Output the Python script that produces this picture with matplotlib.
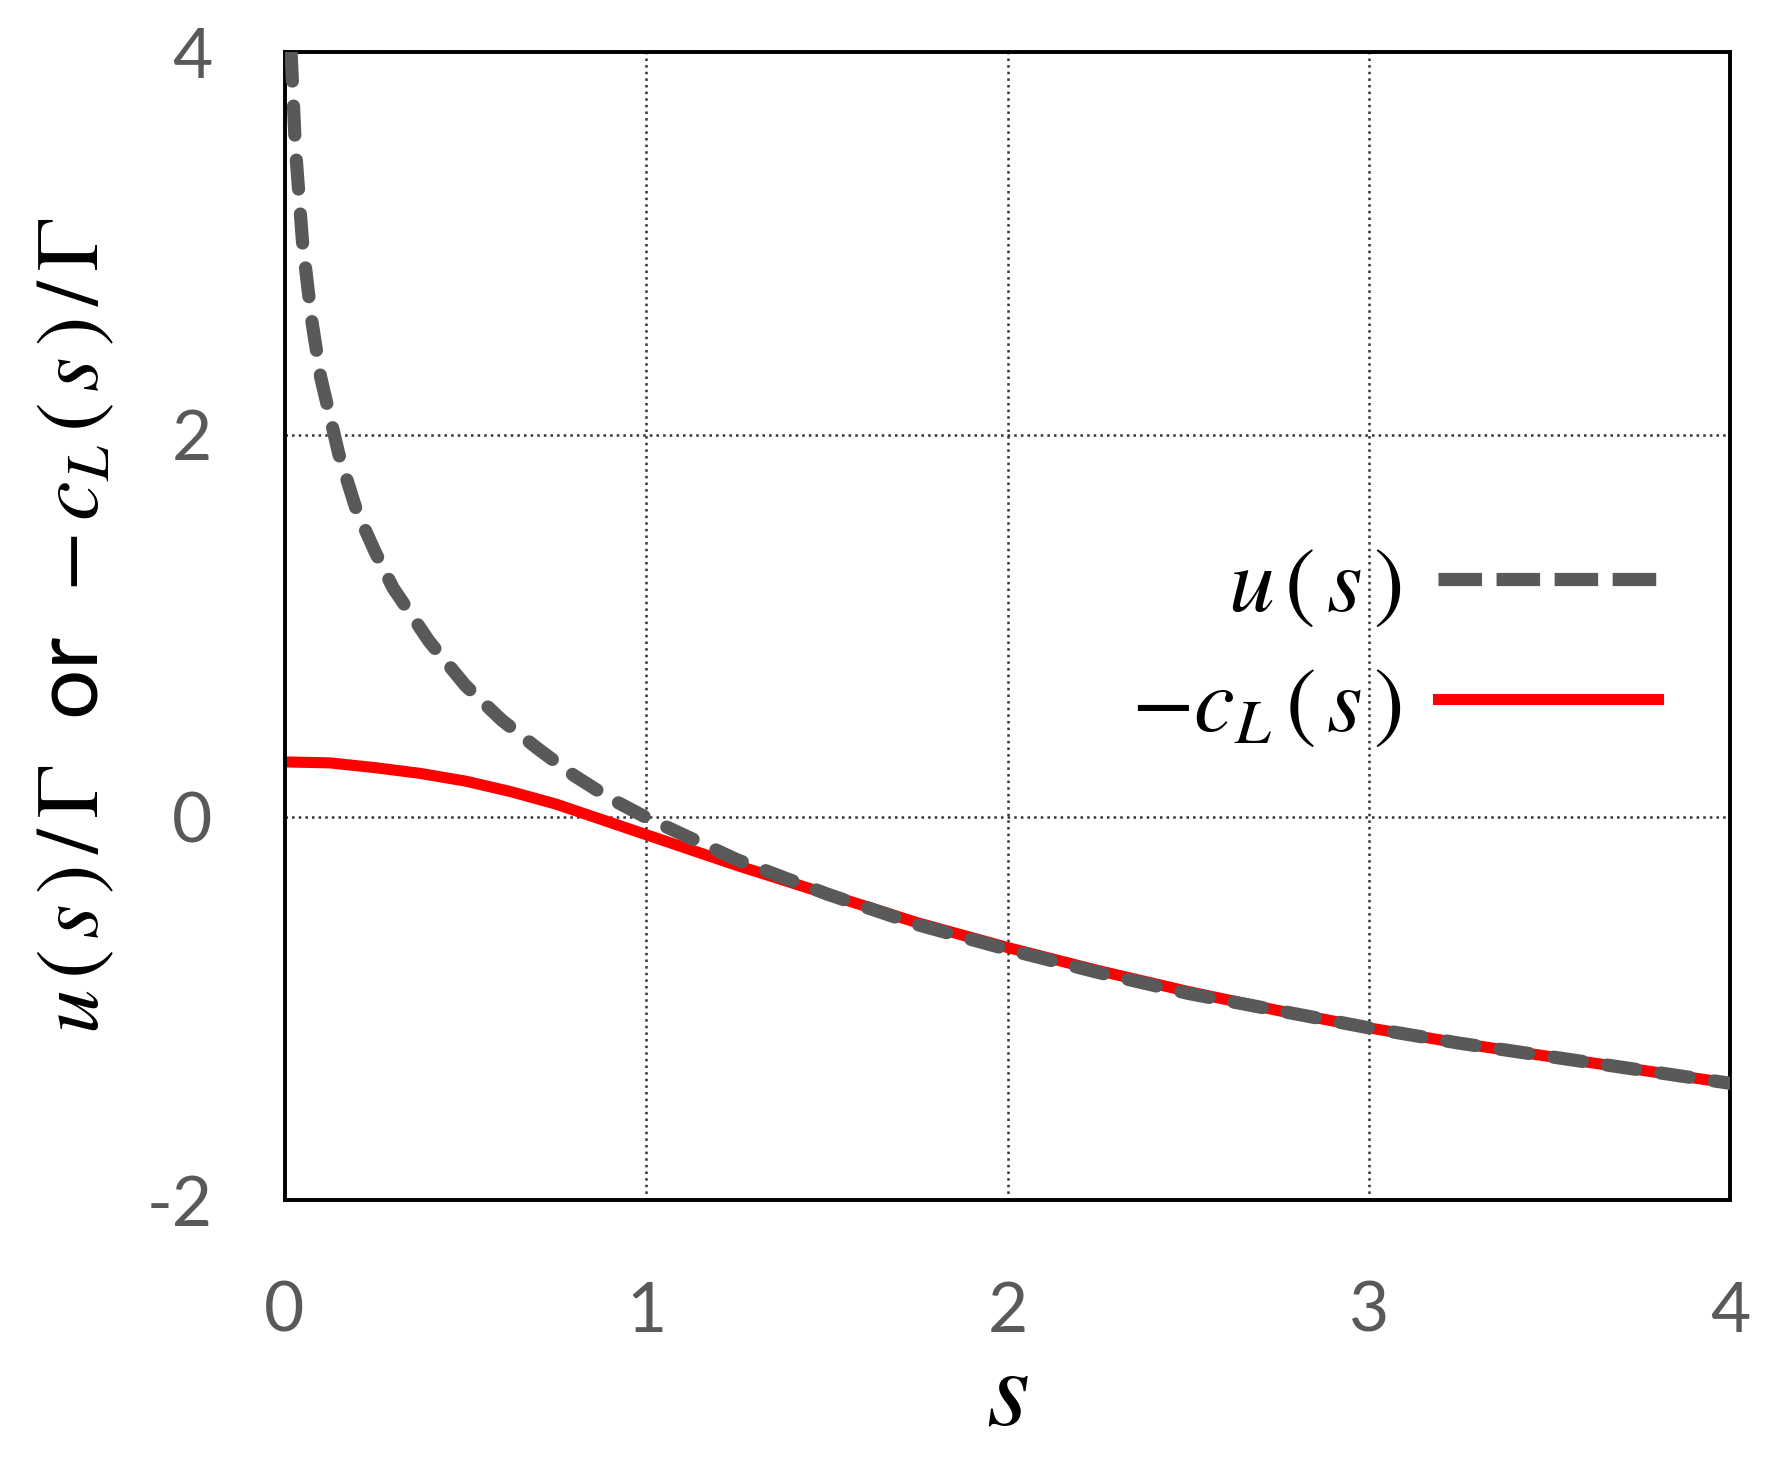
import matplotlib
matplotlib.use("Agg")
import matplotlib.pyplot as plt

plt.rcParams['mathtext.fontset'] = 'stix'
plt.rcParams['font.family'] = ['Lato', 'DejaVu Sans']
plt.rcParams['axes.unicode_minus'] = False

# values
s_u = [0.018, 0.03, 0.05, 0.075, 0.1, 0.15, 0.2, 0.25, 0.3, 0.4, 0.5, 0.6, 0.7, 0.8, 0.9,
       1.0, 1.25, 1.5, 1.75, 2.0, 2.25, 2.5, 2.75, 3.0, 3.25, 3.5, 3.75, 4.0]
u_vals = [4.0, 3.5, 3.0, 2.6, 2.3, 1.9, 1.6, 1.39, 1.2, 0.92, 0.69, 0.51, 0.36, 0.22, 0.1,
          0.0, -0.22, -0.40, -0.56, -0.69, -0.81, -0.92, -1.01, -1.10, -1.18, -1.25, -1.32, -1.39]

s_c = [0.0, 0.125, 0.25, 0.375, 0.5, 0.625, 0.75, 0.875, 1.0, 1.125, 1.25, 1.5, 1.75,
       2.0, 2.25, 2.5, 2.75, 3.0, 3.25, 3.5, 3.75, 4.0]
c_vals = [0.29, 0.285, 0.26, 0.23, 0.19, 0.135, 0.07, -0.01, -0.09, -0.17, -0.25, -0.40, -0.55,
          -0.68, -0.80, -0.91, -1.01, -1.10, -1.18, -1.25, -1.32, -1.39]

x_ticks = [0, 1, 2, 3, 4]
y_ticks = [-2, 0, 2, 4]

fig = plt.figure(figsize=(17.84, 14.66), dpi=100)
ax = fig.add_axes([0.1595, 0.1814, 0.8105, 0.7831])

gray = '#595959'
ax.plot(s_u, u_vals, color=gray, lw=9.5, dashes=(2.2, 1.9), dash_capstyle='round',
        label=r'$u\,(\,s\,)$', zorder=3)
ax.plot(s_c, c_vals, color='#ff0000', lw=8, label=r'$-c_L\,(\,s\,)$', zorder=2)

ax.set_xlim(0, 4)
ax.set_ylim(-2, 4)
ax.set_xticks(x_ticks)
ax.set_yticks(y_ticks)
ax.set_xticklabels([str(v) for v in x_ticks])
ax.set_yticklabels([str(v) for v in y_ticks])
ax.tick_params(length=0, labelsize=50, labelcolor=gray)
ax.tick_params(axis='x', pad=58)
ax.tick_params(axis='y', pad=52)

ax.grid(True, linestyle=':', color='#333333', lw=1.8)
ax.set_axisbelow(True)
for sp in ax.spines.values():
    sp.set_linewidth(2.8)
    sp.set_color('black')

ax.set_xlabel(r'$s$', fontsize=80, labelpad=0)
ax.set_ylabel(r'$u\,(\,s\,)\,/\,\Gamma$  or  $-\,c_L\,(\,s\,)\,/\,\Gamma$', fontsize=64,
              labelpad=22)

leg = ax.legend(loc='center right', bbox_to_anchor=(0.95, 0.482), frameon=False,
                markerfirst=False, fontsize=66, handlelength=2.4, labelspacing=0.38,
                handletextpad=0.4, borderaxespad=0, borderpad=0)
# four square-ended dashes in the legend key, like the original
leg.get_lines()[0].set_dash_capstyle('butt')
leg.get_lines()[0].set_dashes((3.3, 1.1))

fig.savefig('out.png', dpi=100)
